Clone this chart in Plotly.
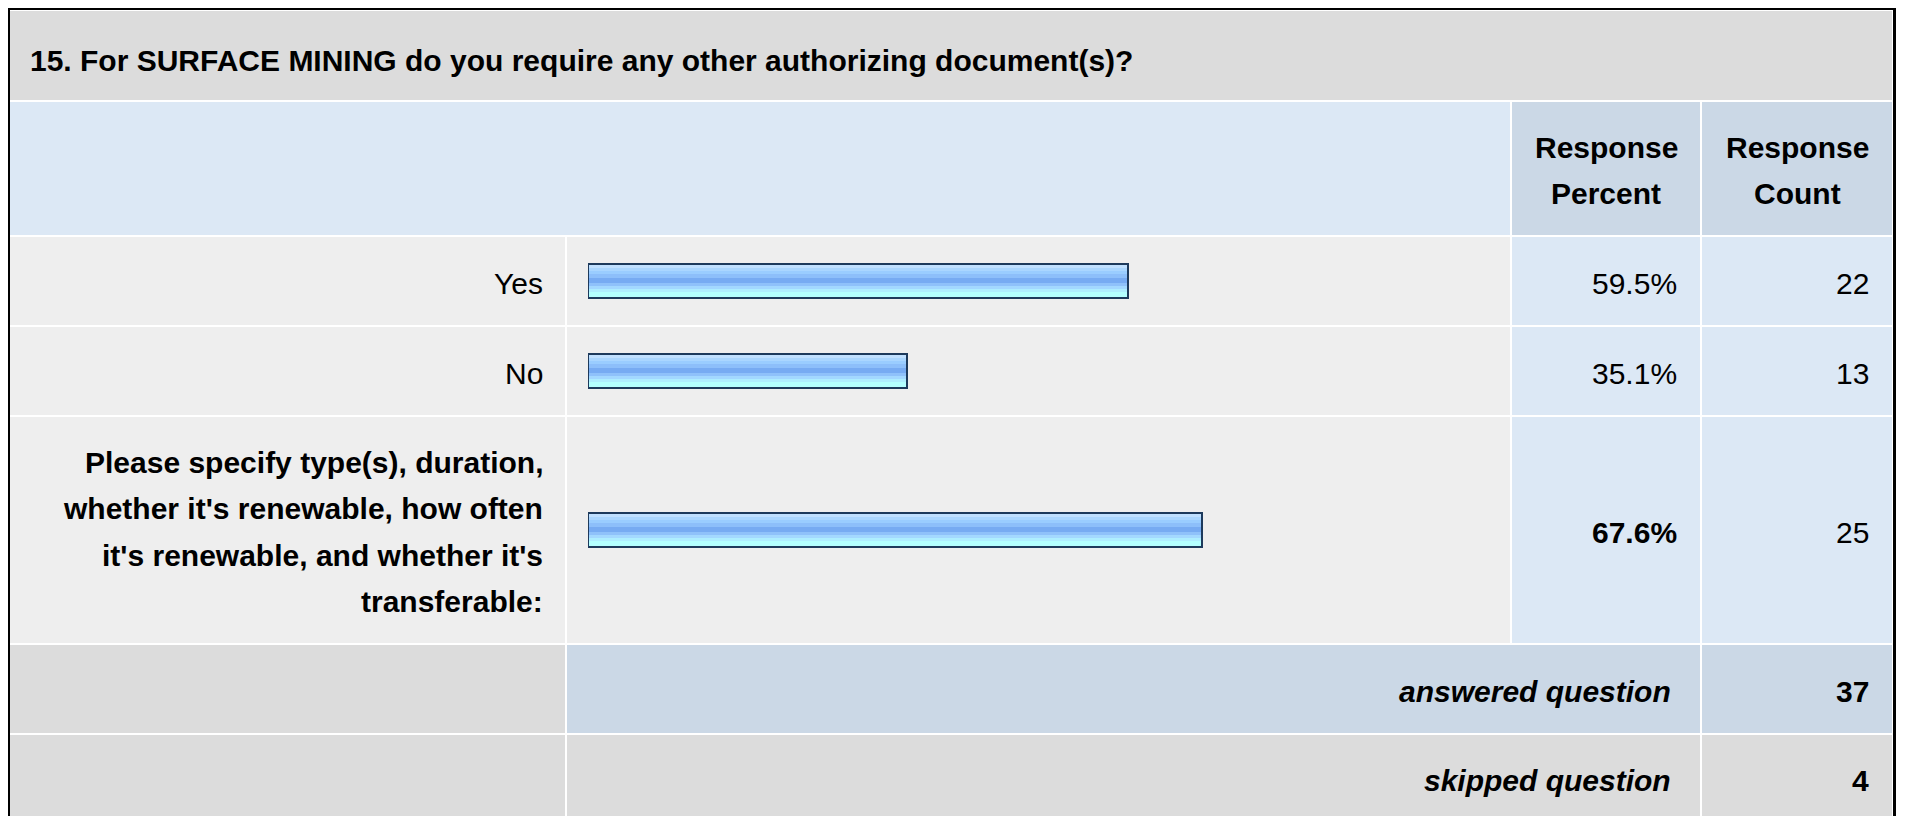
import plotly.graph_objects as go

# ---- data ------------------------------------------------------------------
QUESTION = "15. For SURFACE MINING do you require any other authorizing document(s)?"
HEADERS = ["Response<br>Percent", "Response<br>Count"]
CHOICES = ["Yes",
           "No",
           "Please specify type(s), duration,<br>whether it's renewable, how often"
           "<br>it's renewable, and whether it's<br>transferable:"]
PERCENT = [59.5, 35.1, 67.6]
COUNT = [22, 13, 25]
FOOTER = ["answered question", "skipped question"]
FOOTER_COUNT = [37, 4]

# ---- layout (page pixels; the page body has an 8px margin) ----------------
W, H, OFF = 1891, 808, 8
COLS = [(10, 565), (567, 1510), (1512, 1700), (1702, 1892)]
ROW_TITLE = (11, 100)
ROW_HEAD = (102, 235)
ROW_CHOICE = [(237, 325), (327, 415), (417, 643)]
ROW_FOOT = [(645, 733), (735, 822)]
BAR_X0, BAR_X100 = 588, 1496
LINE_GAP = 46.5
TEXT_DY = 2

GRAY, LIGHT, BLUE, BLUE2 = "#dcdcdc", "#eeeeee", "#dce8f5", "#cbd8e6"
NAVY = "#1d3a5c"
STRIPE_H = [3, 3, 3, 4, 5, 3, 3, 3, 5]
STRIPE_C = ["#c0e0ff", "#aad6ff", "#9acdff", "#8dbffa", "#77abf2",
            "#8fc1fa", "#a3d8ff", "#aeeeff", "#b3ffff"]
FONT = "Liberation Sans, Arial, Helvetica, sans-serif"
FS = 30


def px(x):
    return (x - OFF) / W


def py(y):
    return 1 - (y - OFF) / H


shapes = []
annotations = []


def cell(c0, c1, row, color):
    shapes.append(dict(type="rect", xref="paper", yref="paper", layer="below",
                       x0=px(COLS[c0][0]), x1=px(COLS[c1][1]),
                       y0=py(row[1]), y1=py(row[0]),
                       fillcolor=color, line=dict(width=0)))


def text(x, y, s, anchor, size=FS):
    annotations.append(dict(xref="paper", yref="paper", x=px(x), y=py(y + TEXT_DY),
                            text=s, showarrow=False, xanchor=anchor,
                            yanchor="middle", borderpad=0,
                            font=dict(family=FONT, size=size, color="#000000")))


def mid(row):
    return (row[0] + row[1]) / 2


def multiline(x, yc, s, anchor, bold=False, gap=LINE_GAP):
    lines = s.split("<br>")
    for i, ln in enumerate(lines):
        y = yc + (i - (len(lines) - 1) / 2) * gap
        text(x, y, f"<b>{ln}</b>" if bold else ln, anchor)


# title row
cell(0, 3, ROW_TITLE, GRAY)
text(29, 59, f"<b>{QUESTION}</b>", "left")

# header row
cell(0, 1, ROW_HEAD, BLUE)
for i, h in enumerate(HEADERS):
    cell(2 + i, 2 + i, ROW_HEAD, BLUE2)
    multiline((COLS[2 + i][0] + COLS[2 + i][1]) / 2, mid(ROW_HEAD), h, "center",
              bold=True, gap=45.5)

# choice rows
for i, row in enumerate(ROW_CHOICE):
    cell(0, 0, row, LIGHT)
    cell(1, 1, row, LIGHT)
    cell(2, 2, row, BLUE)
    cell(3, 3, row, BLUE)
    other = i == len(CHOICES) - 1
    multiline(544, mid(row), CHOICES[i], "right", bold=other)
    pct = f"{PERCENT[i]:.1f}%"
    text(1678, mid(row), f"<b>{pct}</b>" if other else pct, "right")
    text(1870, mid(row), str(COUNT[i]), "right")

# footer rows
for i, row in enumerate(ROW_FOOT):
    col = BLUE2 if i == 0 else GRAY
    cell(0, 0, row, GRAY)
    cell(1, 2, row, col)
    cell(3, 3, row, col)
    text(1672, mid(row), f"<b><i>{FOOTER[i]}</i></b>", "right")
    text(1870, mid(row), f"<b>{FOOTER_COUNT[i]}</b>", "right")

# outer table border
shapes.append(dict(type="rect", xref="paper", yref="paper", layer="above",
                   x0=px(8.5), x1=px(1894.5), y0=py(840), y1=py(8.5),
                   line=dict(color="#000000", width=3), fillcolor="rgba(0,0,0,0)"))

# bars: gradient stripes drawn as overlaid bar traces, then an outline
centers = [mid(r) for r in ROW_CHOICE]
fig = go.Figure()
top = -sum(STRIPE_H) / 2
for h, c in zip(STRIPE_H, STRIPE_C):
    fig.add_trace(go.Bar(x=PERCENT, y=centers, orientation="h", width=h, offset=top,
                         marker=dict(color=c, line=dict(width=0)),
                         hoverinfo="skip", showlegend=False))
    top += h
fig.add_trace(go.Bar(x=PERCENT, y=centers, orientation="h", width=34, offset=-17,
                     marker=dict(color="rgba(0,0,0,0)", line=dict(color=NAVY, width=2)),
                     hoverinfo="skip", showlegend=False))

fig.update_layout(
    width=W, height=H,
    margin=dict(l=0, r=0, t=0, b=0),
    paper_bgcolor="#ffffff", plot_bgcolor="rgba(0,0,0,0)",
    barmode="overlay", bargap=0,
    xaxis=dict(domain=[px(BAR_X0), px(BAR_X100)], range=[0, 100], visible=False,
               fixedrange=True),
    yaxis=dict(domain=[0, 1], range=[OFF + H, OFF], visible=False, fixedrange=True),
    shapes=shapes, annotations=annotations,
    font=dict(family=FONT),
)

fig.write_html("out.html")
